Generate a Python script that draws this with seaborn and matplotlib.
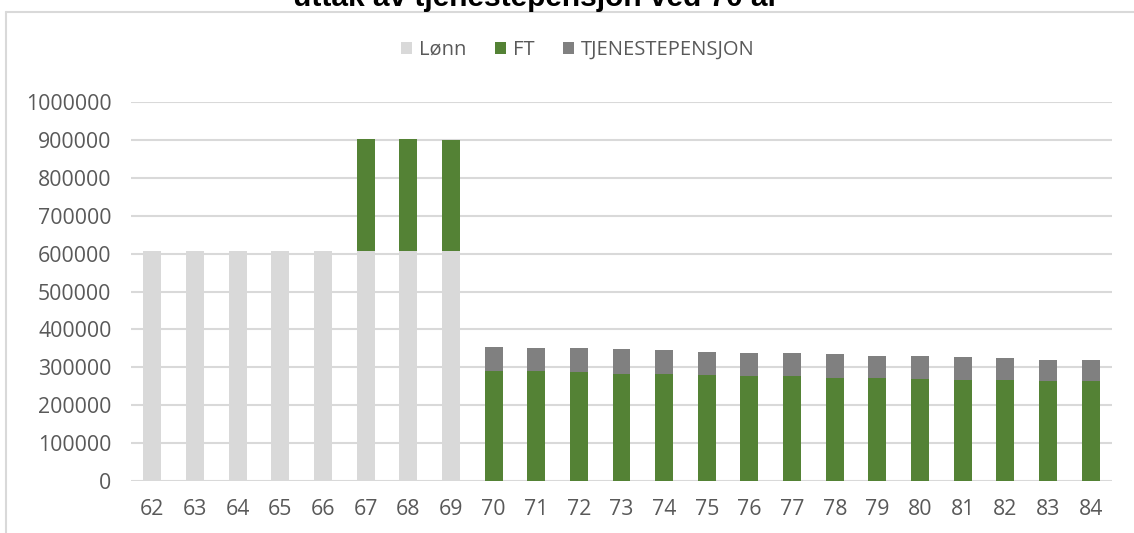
import numpy as np
import pandas as pd
import matplotlib
matplotlib.use("Agg")
import matplotlib.pyplot as plt
import seaborn as sns
from matplotlib.patches import Patch
from matplotlib.lines import Line2D

# Values
ages = [str(a) for a in range(62, 85)]
lonn = [607000] * 8 + [0] * 15
ft = [0, 0, 0, 0, 0, 296000, 296000, 292000,
      290000, 290000, 287000, 283000, 283000, 280000, 277000, 277000,
      273000, 273000, 269000, 266000, 266000, 263000, 263000]
tjp = [0] * 8 + [64000, 60000, 63000, 64000, 62000, 61000, 60000, 60000,
                 61000, 58000, 62000, 60000, 58000, 57000, 57000]
yticks = list(range(0, 1000001, 100000))
title = "uttak av tjenestepensjon ved 70 år"

df = pd.DataFrame({"alder": ages, "Lønn": lonn, "FT": ft, "TJENESTEPENSJON": tjp})
colors = {"Lønn": "#d9d9d9", "FT": "#548235", "TJENESTEPENSJON": "#808080"}
text_col = "#595959"

sns.set_theme(style="white")
plt.rcParams["font.family"] = ["Open Sans", "DejaVu Sans"]

fig = plt.figure(figsize=(11.34, 5.33), dpi=100)
ax = fig.add_axes([131 / 1134, 1 - 481 / 533, (1112 - 131) / 1134, (481 - 102) / 533])

bottom = np.zeros(len(ages))
for col in ["Lønn", "FT", "TJENESTEPENSJON"]:
    sns.barplot(data=df, x="alder", y=col, color=colors[col], saturation=1,
                width=0.42, bottom=bottom, linewidth=0, ax=ax, zorder=3)
    bottom = bottom + df[col].to_numpy()

ax.set_ylim(0, 1000000)
ax.set_yticks(yticks)
ax.set_yticklabels([str(t) for t in yticks])
ax.set_xlabel("")
ax.set_ylabel("")
ax.grid(axis="y", color="#d9d9d9", linewidth=1.5, zorder=0)
ax.set_axisbelow(True)
sns.despine(ax=ax, left=True, bottom=True)
ax.tick_params(axis="both", length=0, labelsize=15.3, labelcolor=text_col)
ax.tick_params(axis="y", pad=14)
ax.tick_params(axis="x", pad=13)

handles = [Patch(facecolor=colors[c], edgecolor="none", label=c) for c in colors]
fig.legend(handles=handles, loc="center", bbox_to_anchor=(578 / 1134, 1 - 50 / 533),
           ncol=3, frameon=False, fontsize=14.5, labelcolor=text_col,
           handlelength=0.55, handleheight=0.55, handletextpad=0.35, columnspacing=1.4)

fig.text(536 / 1134, 1 - 6 / 533, title, ha="center", va="baseline",
         fontsize=21.5, fontweight="bold", family="Liberation Sans", color="black")

# Chart frame (top and left edges visible in the reference)
fig.add_artist(Line2D([6 / 1134, 1], [1 - 12 / 533, 1 - 12 / 533],
                      transform=fig.transFigure, color="#d9d9d9", linewidth=1.5))
fig.add_artist(Line2D([6 / 1134, 6 / 1134], [0, 1 - 12 / 533],
                      transform=fig.transFigure, color="#d9d9d9", linewidth=1.5))

fig.savefig("out.png", dpi=100)
